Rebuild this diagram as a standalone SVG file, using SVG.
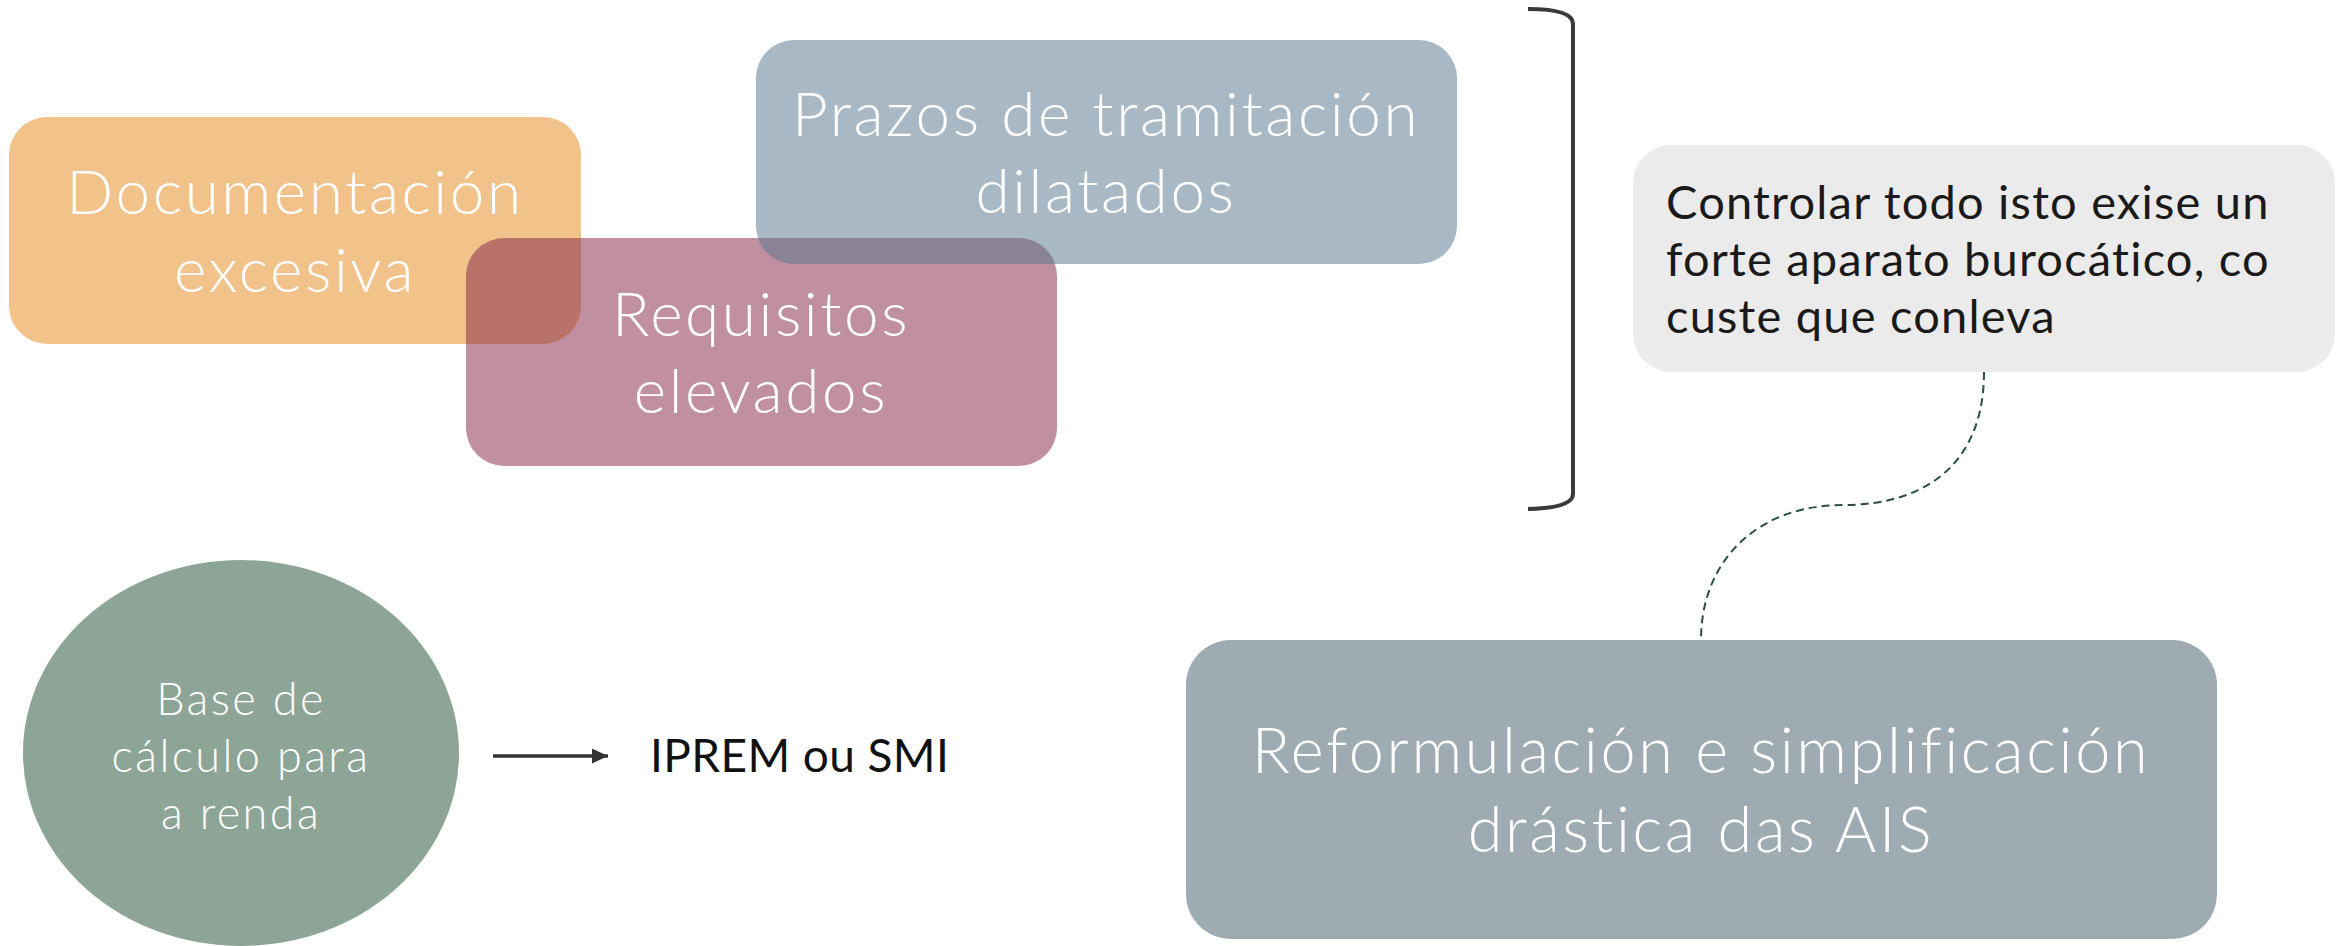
<svg xmlns="http://www.w3.org/2000/svg" width="2348" height="946" viewBox="0 0 2348 946">
  <style>
    .big { font-family: Lato, "Open Sans", "Liberation Sans", sans-serif; font-weight: 300; font-size: 62px; letter-spacing: 2.6px; fill: #ffffff; text-anchor: middle; }
    .mid { font-family: Lato, "Open Sans", "Liberation Sans", sans-serif; font-weight: 300; font-size: 45px; letter-spacing: 2.4px; fill: #ffffff; text-anchor: middle; }
    .note { font-family: Lato, "Open Sans", "Liberation Sans", sans-serif; font-weight: 400; font-size: 47px; letter-spacing: 1.2px; fill: #1a1a1a; }
    .plain { font-family: Lato, "Open Sans", "Liberation Sans", sans-serif; font-weight: 400; font-size: 46px; letter-spacing: 0.4px; fill: #111111; }
  </style>
  <defs>
    <marker id="arr" viewBox="0 0 16 15" refX="16" refY="7.5" markerWidth="16" markerHeight="15" orient="auto" markerUnits="userSpaceOnUse">
      <path d="M0,0 L16,7.5 L0,15 Z" fill="#333333"/>
    </marker>
  </defs>
  <rect width="2348" height="946" fill="#ffffff"/>

  <g id="documentacion">
    <rect x="9" y="117" width="572" height="227" rx="38" fill="#F1C28A"/>
    <text class="big" x="295" y="214">Documentación</text>
    <text class="big" x="295" y="292">excesiva</text>
  </g>

  <g id="requisitos">
    <rect x="466" y="238" width="591" height="228" rx="38" fill="#862848" fill-opacity="0.52"/>
    <text class="big" x="761" y="336">Requisitos</text>
    <text class="big" x="761" y="413">elevados</text>
  </g>

  <g id="prazos">
    <rect x="756" y="40" width="701" height="224" rx="38" fill="#58768E" fill-opacity="0.52"/>
    <text class="big" x="1106" y="136">Prazos de tramitación</text>
    <text class="big" x="1106" y="213">dilatados</text>
  </g>

  <g id="bracket">
    <path d="M1528,9 Q1573,9 1573,24 L1573,494 Q1573,508 1528,509" fill="none" stroke="#3a3a3a" stroke-width="4"/>
  </g>

  <g id="nota">
    <rect x="1633" y="145" width="702" height="227" rx="38" fill="#EBEBEB"/>
    <text class="note" x="1666" y="219">Controlar todo isto exise un</text>
    <text class="note" x="1666" y="276">forte aparato burocático, co</text>
    <text class="note" x="1666" y="333">custe que conleva</text>
  </g>

  <g id="base">
    <ellipse cx="241" cy="753" rx="218" ry="193" fill="#8DA597"/>
    <text class="mid" x="241" y="715">Base de</text>
    <text class="mid" x="241" y="772">cálculo para</text>
    <text class="mid" x="241" y="829">a renda</text>
  </g>

  <g id="iprem">
    <text class="plain" x="650" y="772">IPREM ou SMI</text>
  </g>

  <g id="reformulacion">
    <rect x="1186" y="640" width="1031" height="299" rx="45" fill="#9EABB2"/>
    <text class="big" x="1701" y="773" style="font-size:63px">Reformulación e simplificación</text>
    <text class="big" x="1701" y="852" style="font-size:63px">drástica das AIS</text>
  </g>

  <g id="connectors">
    <line x1="493" y1="756" x2="608" y2="756" stroke="#333333" stroke-width="3.5" marker-end="url(#arr)"/>
    <path d="M1984,372 C1984,460 1930,505 1843,505 C1758,505 1701,560 1701,640" fill="none" stroke="#2B4F3F" stroke-width="2" stroke-dasharray="8,5"/>
  </g>
</svg>
